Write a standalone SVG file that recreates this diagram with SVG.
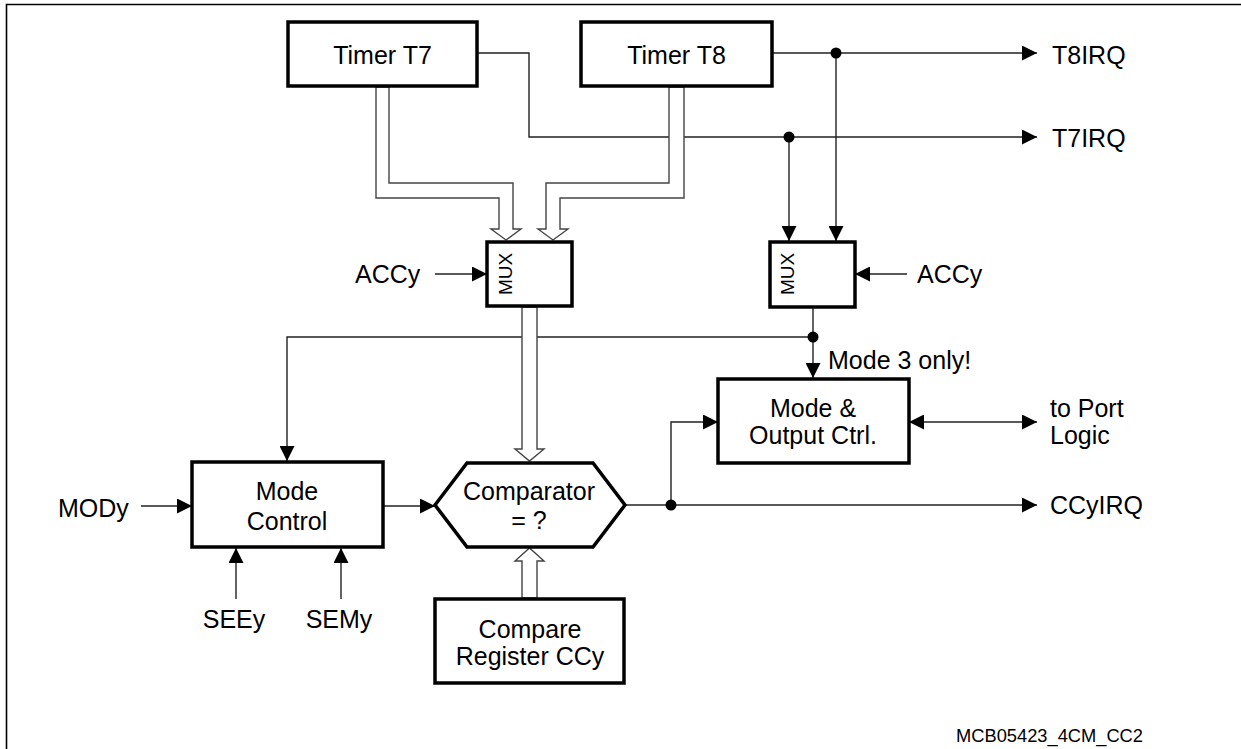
<svg xmlns="http://www.w3.org/2000/svg" width="1241" height="749" viewBox="0 0 1241 749">
<style>
  .box { fill: #fff; stroke: #000; stroke-width: 3.5; }
  .ln { fill: none; stroke: #222; stroke-width: 1.4; }
  .bus { fill: #fff; stroke: #444; stroke-width: 1.4; stroke-linejoin: miter; }
  .t { font-family: "Liberation Sans", Arial, sans-serif; font-size: 25px; fill: #000; }
  .c { text-anchor: middle; }
  .dot { fill: #000; }
</style>
<defs>
  <marker id="ah" markerUnits="userSpaceOnUse" markerWidth="15" markerHeight="15" refX="15" refY="7.5" orient="auto-start-reverse">
    <path d="M0,0 L15,7.5 L0,15 z" fill="#000"/>
  </marker>
</defs>
<rect width="1241" height="749" fill="#fff"/>
<path d="M6.5,749 V4.5 H1241" fill="none" stroke="#000" stroke-width="1.6"/>

<g id="connectors">
  <!-- T7 output -->
  <path class="ln" d="M477,53 H529 V137 H1037" marker-end="url(#ah)"/>
  <!-- T8 output -->
  <path class="ln" d="M772,53 H1037" marker-end="url(#ah)"/>
  <path class="ln" d="M836,53 V241" marker-end="url(#ah)"/>
  <path class="ln" d="M789,137 V241" marker-end="url(#ah)"/>
  <!-- ACCy inputs -->
  <path class="ln" d="M435,274 H487" marker-end="url(#ah)"/>
  <path class="ln" d="M907,274 H855" marker-end="url(#ah)"/>
  <!-- MUX2 output -->
  <path class="ln" d="M813,307 V378" marker-end="url(#ah)"/>
  <path class="ln" d="M813,337 H287 V461" marker-end="url(#ah)"/>
  <!-- Mode control inputs -->
  <path class="ln" d="M141,506 H192" marker-end="url(#ah)"/>
  <path class="ln" d="M236,599 V548" marker-end="url(#ah)"/>
  <path class="ln" d="M341,599 V548" marker-end="url(#ah)"/>
  <path class="ln" d="M383,506 H435" marker-end="url(#ah)"/>
  <!-- Comparator output -->
  <path class="ln" d="M625,505 H1037" marker-end="url(#ah)"/>
  <path class="ln" d="M671,505 V422 H718" marker-end="url(#ah)"/>
  <!-- to port logic -->
  <path class="ln" d="M909,422 H1037" marker-start="url(#ah)" marker-end="url(#ah)"/>
  <!-- buses -->
  <polygon class="bus" points="376,87 376,198 499,198 499,229 491,229 506,240 521,229 513,229 513,183 389,183 389,87"/>
  <polygon class="bus" points="684,87 684,198 560,198 560,229 568,229 553,240 538,229 546,229 546,183 669,183 669,87"/>
  <polygon class="bus" points="522,307 522,449 515,449 529.5,461 544,449 537,449 537,307"/>
  <polygon class="bus" points="522,598 522,561 515,561 529.5,548 544,561 537,561 537,598"/>
  <!-- junction dots -->
  <circle class="dot" cx="836" cy="53" r="5.5"/>
  <circle class="dot" cx="789" cy="137" r="5.5"/>
  <circle class="dot" cx="813" cy="337" r="5.5"/>
  <circle class="dot" cx="671" cy="505" r="5.5"/>
</g>

<g id="timer-t7">
  <rect class="box" x="288" y="22" width="189" height="64"/>
  <text class="t c" x="382.5" y="64">Timer T7</text>
</g>
<g id="timer-t8">
  <rect class="box" x="581" y="22" width="191" height="64"/>
  <text class="t c" x="676.5" y="64">Timer T8</text>
</g>
<g id="mux1">
  <rect class="box" x="487" y="242" width="85" height="64"/>
  <text class="t c" style="font-size:19px" transform="translate(512,274) rotate(-90)">MUX</text>
</g>
<g id="mux2">
  <rect class="box" x="770" y="242" width="85" height="65"/>
  <text class="t c" style="font-size:19px" transform="translate(794,274) rotate(-90)">MUX</text>
</g>
<g id="mode-output-ctrl">
  <rect class="box" x="718" y="379" width="191" height="84"/>
  <text class="t c" x="813" y="417">Mode &amp;</text>
  <text class="t c" x="813" y="444">Output Ctrl.</text>
</g>
<g id="mode-control">
  <rect class="box" x="192" y="462" width="191" height="85"/>
  <text class="t c" x="287" y="500">Mode</text>
  <text class="t c" x="287" y="530">Control</text>
</g>
<g id="comparator">
  <polygon class="box" points="435,505 467,463 593,463 625,505 593,547 467,547"/>
  <text class="t c" x="529" y="500">Comparator</text>
  <text class="t c" x="529" y="529">= ?</text>
</g>
<g id="compare-register">
  <rect class="box" x="435" y="599" width="189" height="84"/>
  <text class="t c" x="530" y="638">Compare</text>
  <text class="t c" x="530" y="665">Register CCy</text>
</g>

<g id="labels">
  <text class="t" x="1052" y="64">T8IRQ</text>
  <text class="t" x="1052" y="147">T7IRQ</text>
  <text class="t" x="355" y="283">ACCy</text>
  <text class="t" x="917" y="283">ACCy</text>
  <text class="t" x="828" y="369">Mode 3 only!</text>
  <text class="t" x="1050" y="417">to Port</text>
  <text class="t" x="1050" y="444">Logic</text>
  <text class="t" x="1050" y="514">CCyIRQ</text>
  <text class="t" x="58" y="517">MODy</text>
  <text class="t c" x="234" y="628">SEEy</text>
  <text class="t c" x="339" y="628">SEMy</text>
  <text class="t" x="956" y="742" style="font-size:19px" textLength="187" lengthAdjust="spacingAndGlyphs">MCB05423_4CM_CC2</text>
</g>
</svg>
